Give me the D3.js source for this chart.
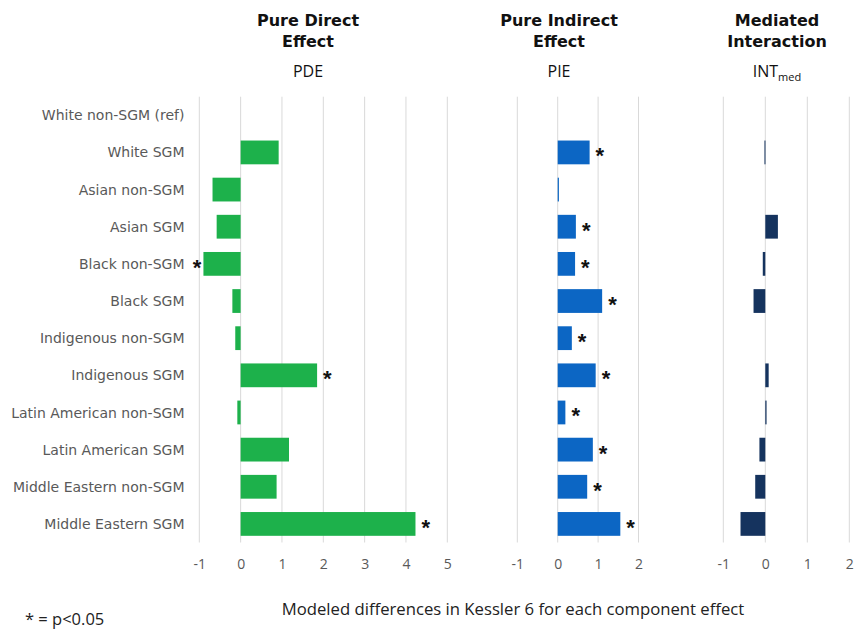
<!DOCTYPE html>
<html>
<head>
<meta charset="utf-8">
<script src="https://cdn.jsdelivr.net/npm/d3@7"></script>
<style>
  html, body { margin: 0; padding: 0; background: #fff; }
  svg { display: block; }
</style>
</head>
<body>
<svg id="chart" width="855" height="631"></svg>
<script>
// Groups, from the reference category at the top down
const groups = [
  "White non-SGM (ref)", "White SGM", "Asian non-SGM", "Asian SGM",
  "Black non-SGM", "Black SGM", "Indigenous non-SGM", "Indigenous SGM",
  "Latin American non-SGM", "Latin American SGM",
  "Middle Eastern non-SGM", "Middle Eastern SGM"
];

// Component effects (differences in Kessler 6)
const pdeValues = [0, 0.92, -0.68, -0.58, -0.90, -0.20, -0.13, 1.85, -0.08, 1.17, 0.87, 4.23];
const pieValues = [0, 0.79, 0.03, 0.45, 0.43, 1.10, 0.35, 0.94, 0.19, 0.87, 0.73, 1.55];
const intValues = [0, -0.02, 0, 0.30, -0.06, -0.28, 0, 0.08, 0.03, -0.14, -0.24, -0.59];

// Significance flags (p < 0.05)
const pdeSig = [false, false, false, false, true, false, false, true, false, false, false, true];
const pieSig = [false, true, false, true, true, true, true, true, true, true, true, true];
const intSig = [false, false, false, false, false, false, false, false, false, false, false, false];

// Tick labels per panel
const pdeTicks = [-1, 0, 1, 2, 3, 4, 5];
const pieTicks = [-1, 0, 1, 2];
const intTicks = [-1, 0, 1, 2];

const panels = [
  { title: ["Pure Direct", "Effect"], sub: "PDE", values: pdeValues, sig: pdeSig, ticks: pdeTicks,
    range: [199.3, 447.3], color: "#1db14b", titleX: 308 },
  { title: ["Pure Indirect", "Effect"], sub: "PIE", values: pieValues, sig: pieSig, ticks: pieTicks,
    range: [517.3, 638.5], color: "#0c66c4", titleX: 559 },
  { title: ["Mediated", "Interaction"], sub: "INT", subScript: "med", values: intValues, sig: intSig, ticks: intTicks,
    range: [723.3, 849.3], color: "#15335e", titleX: 777 }
];

const svg = d3.select("#chart");
const fontUI = "'DejaVu Sans', Verdana, sans-serif";
const fontTick = "'Open Sans', 'Noto Sans', sans-serif";

const y = d3.scaleBand()
  .domain(groups)
  .range([96.7, 542.5])
  .paddingInner(0.36)
  .paddingOuter(0.18);

// Group labels on the left
svg.append("g")
  .selectAll("text")
  .data(groups)
  .join("text")
  .attr("x", 184.5)
  .attr("y", d => y(d) + y.bandwidth() / 2)
  .attr("dy", "0.36em")
  .attr("text-anchor", "end")
  .attr("font-family", fontUI)
  .attr("font-size", 14)
  .attr("fill", "#595959")
  .text(d => d);

panels.forEach(p => {
  const x = d3.scaleLinear()
    .domain([p.ticks[0], p.ticks[p.ticks.length - 1]])
    .range(p.range);

  const g = svg.append("g");

  // Vertical gridlines
  g.append("g")
    .selectAll("line")
    .data(p.ticks)
    .join("line")
    .attr("x1", d => x(d)).attr("x2", d => x(d))
    .attr("y1", 96.7).attr("y2", 542.5)
    .attr("stroke", "#d9d9d9")
    .attr("stroke-width", 1);

  // Tick labels below the plot
  const axis = d3.axisBottom(x).tickValues(p.ticks).tickSize(0).tickPadding(0)
    .tickFormat(d3.format("d"));
  const ax = g.append("g").attr("transform", "translate(0,559)").call(axis);
  ax.select(".domain").remove();
  ax.selectAll("text")
    .attr("font-family", fontTick)
    .attr("font-size", 14)
    .attr("fill", "#595959")
    .text(d => d < 0 ? "-" + Math.abs(d) : d);

  const rows = groups.map((grp, i) => ({ grp, v: p.values[i], s: p.sig[i] }));

  // Bars
  g.append("g")
    .selectAll("rect")
    .data(rows.filter(r => r.v !== 0))
    .join("rect")
    .attr("x", r => Math.min(x(0), x(r.v)))
    .attr("y", r => y(r.grp))
    .attr("width", r => Math.max(1, Math.abs(x(r.v) - x(0))))
    .attr("height", y.bandwidth())
    .attr("fill", p.color);

  // Significance markers
  g.append("g")
    .selectAll("text")
    .data(rows.filter(r => r.s))
    .join("text")
    .attr("x", r => r.v >= 0 ? x(r.v) + 6 : x(r.v) - 2)
    .attr("y", r => y(r.grp) + y.bandwidth() / 2 + 11)
    .attr("text-anchor", r => r.v >= 0 ? "start" : "end")
    .attr("font-family", "'Liberation Sans', Arial, sans-serif")
    .attr("font-size", 22)
    .attr("font-weight", "bold")
    .attr("fill", "#111")
    .text("*");

  // Panel headings
  const t = g.append("text")
    .attr("text-anchor", "middle")
    .attr("font-family", fontUI)
    .attr("font-size", 16)
    .attr("font-weight", "bold")
    .attr("fill", "#111");
  t.selectAll("tspan")
    .data(p.title)
    .join("tspan")
    .attr("x", p.titleX)
    .attr("y", (d, i) => 26 + i * 21)
    .text(d => d);

  const s = g.append("text")
    .attr("x", p.titleX)
    .attr("y", 77)
    .attr("text-anchor", "middle")
    .attr("font-family", fontTick)
    .attr("font-size", 16)
    .attr("fill", "#111");
  s.append("tspan").text(p.sub);
  if (p.subScript) {
    s.append("tspan").attr("font-size", 11).attr("dy", 4).text(p.subScript);
  }
});

// Shared axis title and significance note
svg.append("text")
  .attr("x", 513)
  .attr("y", 615)
  .attr("text-anchor", "middle")
  .attr("font-family", fontTick)
  .attr("font-size", 16.7)
  .attr("fill", "#222")
  .text("Modeled differences in Kessler 6 for each component effect");

svg.append("text")
  .attr("x", 25)
  .attr("y", 625)
  .attr("font-family", fontTick)
  .attr("font-size", 16.5)
  .attr("fill", "#222")
  .text("* = p<0.05");
</script>
</body>
</html>
